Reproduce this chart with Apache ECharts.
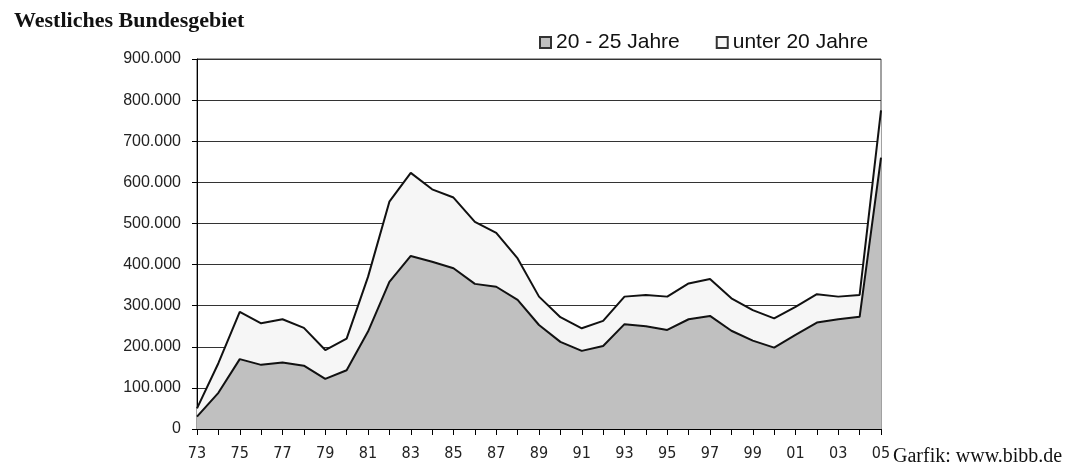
<!DOCTYPE html>
<html>
<head>
<meta charset="utf-8">
<script src="https://cdn.jsdelivr.net/npm/echarts@6/dist/echarts.min.js"></script>
<style>html,body{margin:0;padding:0;background:#fff;}#c{width:1077px;height:475px;}</style>
</head>
<body>
<div id="c"></div>
<script>
const years = ['73','74','75','76','77','78','79','80','81','82','83','84','85','86','87','88','89','90','91','92','93','94','95','96','97','98','99','00','01','02','03','04','05'];
// 20 - 25 Jahre (bottom layer)
const age20to25 = [30000,88000,170000,156000,162000,154000,122000,143000,237000,358000,421000,407000,391000,353000,346000,314000,253000,212000,190000,202000,255000,250000,241000,267000,275000,239000,215000,198000,229000,259000,267000,273000,660000];
// unter 20 Jahre (stacked on top)
const under20 = [20000,72000,115000,101000,105000,92000,70000,77000,133000,195000,202000,176000,172000,151000,131000,101000,69000,60000,55000,61000,67000,76000,81000,87000,90000,79000,74000,71000,68000,69000,55000,53000,115000];
const yTicks = [0,100000,200000,300000,400000,500000,600000,700000,800000,900000];

const chart = echarts.init(document.getElementById('c'));
const fmt = v => v === 0 ? '0' : String(v).replace(/\B(?=(\d{3})+(?!\d))/g, '.');
chart.setOption({
  animation: false,
  title: {
    text: 'Westliches Bundesgebiet',
    left: 9, top: 5,
    textStyle: {fontFamily: 'Liberation Serif', fontWeight: 'bold', fontSize: 22, color: '#111'}
  },
  legend: {
    left: 534, top: 27,
    itemWidth: 11, itemHeight: 11, itemGap: 36,
    icon: 'rect',
    textStyle: {fontFamily: 'Liberation Sans', fontSize: 21, color: '#111'},
    data: ['20 - 25 Jahre', 'unter 20 Jahre']
  },
  graphic: [{
    type: 'text', left: 893, top: 447,
    style: {text: 'Garfik: www.bibb.de', font: '20px "Liberation Serif"', fill: '#111'}
  }],
  grid: {left: 197, right: 196, top: 59, bottom: 46, show: true, borderColor: '#444', borderWidth: 1},
  xAxis: {
    type: 'category', data: years, boundaryGap: false,
    axisLine: {lineStyle: {color: '#000', width: 1}},
    axisTick: {show: true, interval: 0, length: 6, lineStyle: {color: '#000'}},
    axisLabel: {interval: 1, margin: 17, fontFamily: '"Liberation Sans Narrow", "DejaVu Sans Condensed", "Liberation Sans"', fontSize: 16, color: '#222'}
  },
  yAxis: {
    type: 'value', min: 0, max: 900000, interval: 100000,
    axisLine: {show: true, lineStyle: {color: '#000', width: 1}},
    axisTick: {show: true, length: 5, lineStyle: {color: '#000'}},
    axisLabel: {margin: 16, fontFamily: 'Liberation Sans', fontSize: 16, color: '#222', formatter: v => yTicks.includes(v) ? fmt(v) : ''},
    splitLine: {lineStyle: {color: '#333', width: 1}}
  },
  series: [
    {
      name: '20 - 25 Jahre', type: 'line', stack: 'a', data: age20to25,
      symbol: 'none', lineStyle: {color: '#111', width: 2},
      itemStyle: {color: '#c0c0c0', borderColor: '#333', borderWidth: 1},
      areaStyle: {color: '#c0c0c0', opacity: 1}
    },
    {
      name: 'unter 20 Jahre', type: 'line', stack: 'a', data: under20,
      symbol: 'none', lineStyle: {color: '#111', width: 2},
      itemStyle: {color: '#f7f7f7', borderColor: '#333', borderWidth: 1},
      areaStyle: {color: '#f6f6f6', opacity: 1}
    }
  ]
});
</script>
</body>
</html>
